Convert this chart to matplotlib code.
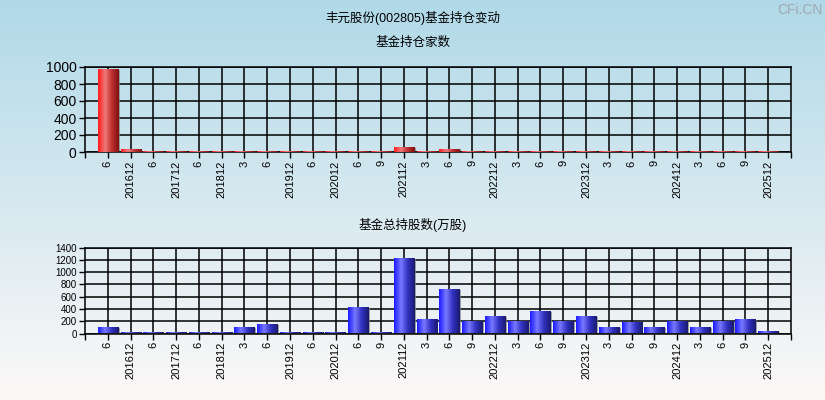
import numpy as np
import matplotlib
matplotlib.use("Agg")
import matplotlib.pyplot as plt
from matplotlib.colors import LinearSegmentedColormap

plt.rcParams['font.family'] = ['Liberation Sans', 'Noto Sans CJK SC', 'DejaVu Sans']

labels = ["6", "201612", "6", "201712", "6", "201812", "3", "6", "201912", "6",
          "202012", "6", "9", "202112", "3", "6", "9", "202212", "3", "6",
          "9", "202312", "3", "6", "9", "202412", "3", "6", "9", "202512"]
fund_count = [970, 25, 8, 8, 8, 8, 8, 8, 8, 8,
              8, 8, 8, 50, 8, 35, 8, 8, 8, 8,
              8, 8, 8, 8, 8, 8, 8, 8, 8, 8]
shares = [85, 15, 15, 15, 15, 15, 85, 141, 15, 15,
          15, 418, 15, 1210, 217, 705, 190, 271, 190, 347,
          190, 271, 87, 168, 87, 190, 87, 190, 217, 20]

title = "丰元股份(002805)基金持仓变动"
sub1 = "基金持仓家数"
sub2 = "基金总持股数(万股)"

W, H = 825, 400
fig = plt.figure(figsize=(W / 100, H / 100), dpi=100)

# background gradient
bg = fig.add_axes([0, 0, 1, 1], zorder=-10)
top_c = np.array([0.69, 0.85, 0.91])
bot_c = np.array([0.99, 0.975, 0.97])
t = np.linspace(0, 1, 256)[:, None]
grad = top_c[None, :] * (1 - t) + bot_c[None, :] * t
bg.imshow(grad[:, None, :], aspect='auto', extent=[0, 1, 0, 1])
bg.set_axis_off()

red_cmap = LinearSegmentedColormap.from_list("r", ["#ff1a1a", "#f07878", "#c03030", "#801010"])
blue_cmap = LinearSegmentedColormap.from_list("b", ["#1a1aff", "#7878ff", "#3030c0", "#1a1a70"])

x = np.arange(len(labels))
bw = 0.88


def draw(ax, vals, cmap, ymax, ystep, ylabsize):
    ax.set_xlim(-1, len(labels))
    ax.set_ylim(0, ymax)
    ax.patch.set_alpha(0)
    bars = ax.bar(x, vals, width=bw, color='none', edgecolor='none', zorder=3)
    gimg = np.linspace(0, 1, 64)[None, :]
    for b in bars:
        x0 = b.get_x(); w = b.get_width(); h = b.get_height()
        # shadow
        ax.add_patch(plt.Rectangle((x0 + 0.08, 0), w, h, color='#808080', alpha=0.7, zorder=2.5, lw=0))
        ax.imshow(gimg, cmap=cmap, aspect='auto', extent=[x0, x0 + w, 0, h], zorder=3)
    ax.set_xlim(-1, len(labels))
    ax.set_ylim(0, ymax)
    ax.set_xticks(x)
    ax.set_xticklabels(labels, rotation=90, fontsize=8)
    ax.set_xticks([-1, len(labels)], minor=True)
    ax.set_yticks(np.arange(0, ymax + 1, ystep))
    ax.tick_params(axis='y', labelsize=ylabsize, length=4, width=1, pad=2)
    ax.tick_params(axis='x', which='both', length=4, width=1, pad=2)
    ax.grid(True, color='black', lw=1.1, zorder=1)
    ax.set_axisbelow(True)
    for s in ax.spines.values():
        s.set_color('black'); s.set_linewidth(1.1)


ax1 = fig.add_axes([85 / W, 1 - 152 / H, (791 - 85) / W, (152 - 67) / H])
draw(ax1, fund_count, red_cmap, 1000, 200, 10)
ax2 = fig.add_axes([85 / W, 1 - 333.5 / H, (791 - 85) / W, (333.5 - 247.5) / H])
draw(ax2, shares, blue_cmap, 1400, 200, 7)

fig.text(0.5, 1 - 18 / H, title, ha='center', va='center', fontsize=9)
fig.text(0.5, 1 - 43 / H, sub1, ha='center', va='center', fontsize=9)
fig.text(0.5, 1 - 225 / H, sub2, ha='center', va='center', fontsize=9)
fig.text(800 / W, 1 - 10 / H, "CFi.CN", ha='center', va='center', fontsize=10, color='#a0a8b0')

fig.savefig("out.png", dpi=100)
